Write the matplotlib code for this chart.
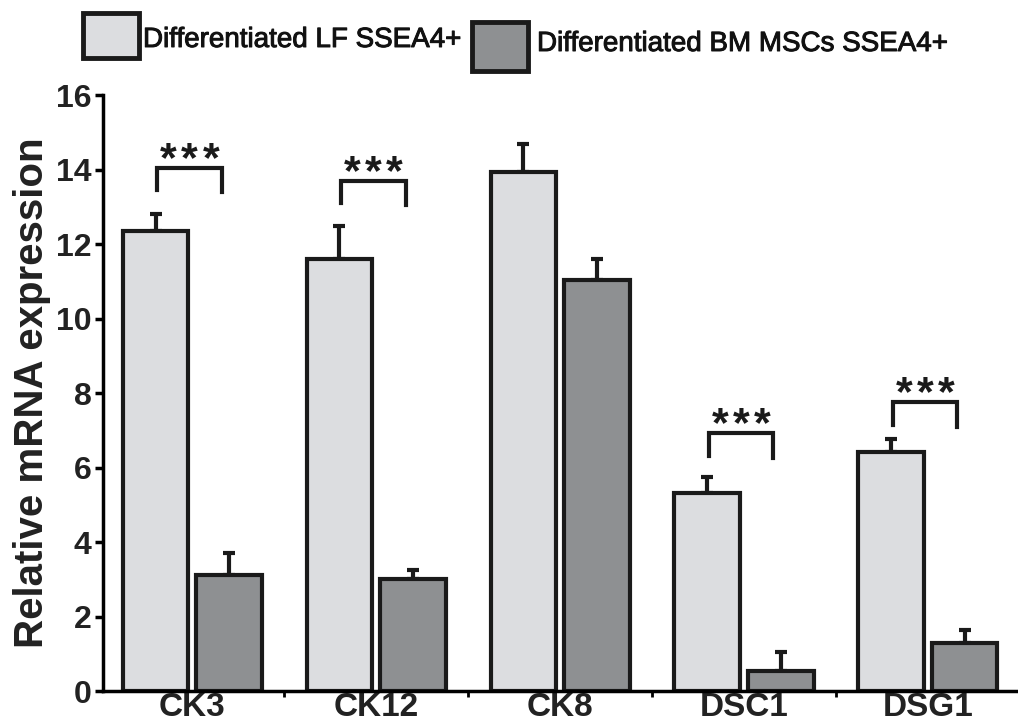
import numpy as np
import matplotlib.pyplot as plt
import matplotlib.patheffects as pe
from matplotlib.patches import Rectangle

genes = ['CK3', 'CK12', 'CK8', 'DSC1', 'DSG1']
lf_mean = [12.35, 11.6, 13.95, 5.32, 6.42]
lf_err = [0.45, 0.9, 0.75, 0.43, 0.35]
bm_mean = [3.11, 3.0, 11.05, 0.53, 1.29]
bm_err = [0.6, 0.25, 0.55, 0.52, 0.35]
series_names = ['Differentiated LF SSEA4+', 'Differentiated BM MSCs SSEA4+']
# significance brackets: (gene index, bracket top, leg bottom)
sig_idx = [0, 1, 3, 4]
sig_top = [14.05, 13.7, 6.93, 7.76]
sig_leg = [13.45, 13.1, 6.3, 7.15]

light = '#dcdde0'
dark = '#8e9092'
edge = '#1a1a1a'
font = ['Liberation Sans', 'DejaVu Sans']

W, H = 1018, 727
fig = plt.figure(figsize=(W / 100, H / 100), dpi=100)
ax = fig.add_axes([0.101, 0.0495, 0.899, 0.8195])

x = np.arange(len(genes))
w = 0.357
off = 0.2
ax.bar(x - off, lf_mean, w, color=light, edgecolor=edge, linewidth=3, zorder=2)
ax.bar(x + off, bm_mean, w, color=dark, edgecolor=edge, linewidth=3, zorder=2)
ax.errorbar(x - off, lf_mean, yerr=[np.zeros(len(x)), lf_err], fmt='none',
            ecolor=edge, elinewidth=3, capsize=4, capthick=3, zorder=1)
ax.errorbar(x + off, bm_mean, yerr=[np.zeros(len(x)), bm_err], fmt='none',
            ecolor=edge, elinewidth=3, capsize=4, capthick=3, zorder=1)

star_gap = 0.115
for i, top, leg in zip(sig_idx, sig_top, sig_leg):
    x0 = i - off + 0.01
    x1 = i + off - 0.04
    ax.plot([x0, x0, x1, x1], [leg, top, top, leg - 0.05], color=edge, lw=3,
            solid_joinstyle='miter')
    xc = (x0 + x1) / 2
    for k in (-1, 0, 1):
        ax.text(xc + k * star_gap, top - 0.08, '*', ha='center', va='baseline',
                fontsize=31, fontweight='bold', family=font, color=edge)

ax.set_xlim(-0.487, 4.49)
ax.set_ylim(0, 16)
ax.set_yticks(range(0, 17, 2))
ax.set_yticklabels([str(v) for v in range(0, 17, 2)], fontsize=23, fontweight='bold',
                   family=font, color='#222222')
ax.set_xticks(x)
ax.set_xticklabels(genes, fontsize=24, fontweight='bold', family=font, color='#222222')
ax.set_xticks(x[:-1] + 0.5, minor=True)
ax.tick_params(axis='x', which='major', length=0, pad=1)
ax.tick_params(axis='x', which='minor', length=4, width=2, direction='out')
ax.tick_params(axis='y', length=6, width=2.5, direction='out', pad=2)
ax.set_ylabel('Relative mRNA expression', fontsize=29, fontweight='bold',
              family=font, labelpad=4, color='#222222')
for s in ['top', 'right']:
    ax.spines[s].set_visible(False)
ax.spines['left'].set_linewidth(2.5)
ax.spines['bottom'].set_linewidth(2.5)

# legend drawn by hand to match the boxed swatches above the plot
leg_box_x = [83, 472]
leg_box_y = [13, 22]
leg_box_h = [45, 49]
leg_text_x = [143, 537]
leg_text_y = [40, 44]
for bx, by, bh, tx, ty, c, name in zip(leg_box_x, leg_box_y, leg_box_h, leg_text_x,
                                       leg_text_y, [light, dark], series_names):
    fig.add_artist(Rectangle((bx / W, 1 - (by + bh) / H), 56 / W, bh / H,
                             transform=fig.transFigure, facecolor=c, edgecolor=edge,
                             linewidth=3.5))
    fig.text(tx / W, 1 - ty / H, name, ha='left', va='center', fontsize=20,
             family=font, color='#111111',
             path_effects=[pe.withStroke(linewidth=0.7, foreground='#111111')])

fig.savefig('out.png', dpi=100)
